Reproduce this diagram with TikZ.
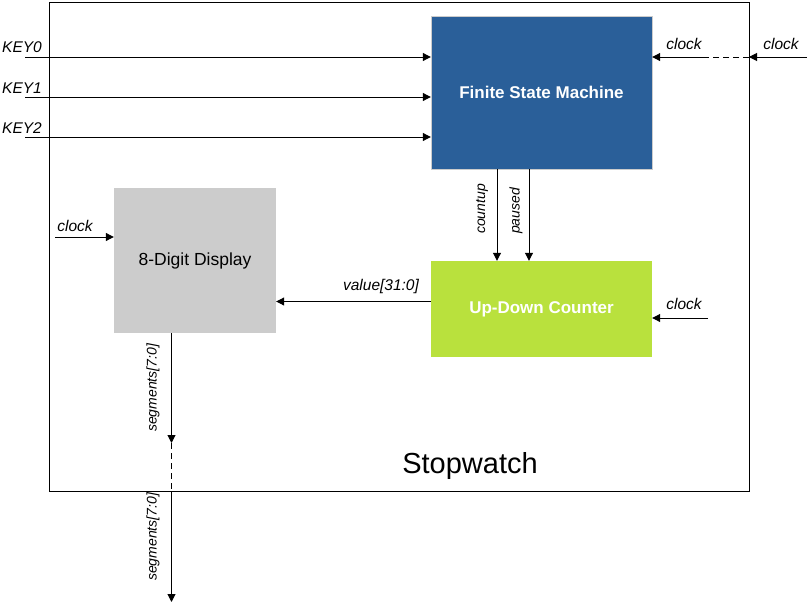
\documentclass[tikz,border=0pt]{standalone}
\usepackage{fontspec}
\setmainfont{Liberation Sans}
\usetikzlibrary{arrows.meta}
\definecolor{fsmblue}{HTML}{2A5F99}
\definecolor{ctrgreen}{HTML}{B9E13D}
\definecolor{dispgray}{HTML}{CCCCCC}
\begin{document}
\begin{tikzpicture}[x=1pt,y=-1pt,
  blk/.style={rectangle, inner sep=0pt, font=\fontsize{17}{20}\selectfont},
  arr/.style={line width=1pt, -{Triangle[length=8pt,width=8pt]}},
  wire/.style={line width=1pt},
  dsh/.style={line width=1pt, dash pattern=on 6pt off 4pt},
  lbl/.style={font=\fontsize{15.5}{18}\selectfont\itshape, inner sep=0pt},
  rlbl/.style={font=\fontsize{14}{16}\selectfont\itshape, inner sep=0pt, rotate=90}]
\useasboundingbox (0,0) rectangle (807,605);
% outer block
\node[draw, line width=1pt, rectangle, inner sep=0pt, minimum width=700pt, minimum height=489pt] (outer) at (399,246.5) {};
\node[font=\fontsize{29}{32}\selectfont, inner sep=0pt] (title) at (470,465.5) {Stopwatch};
% blocks
\node[blk, fill=fsmblue, draw=black!20, text=white, minimum width=221pt, minimum height=153pt, font=\fontsize{17}{20}\selectfont\bfseries] (fsm) at (541.5,92.5) {Finite State Machine};
\node[blk, fill=ctrgreen, text=white, minimum width=221pt, minimum height=96pt, font=\fontsize{17}{20}\selectfont\bfseries] (ctr) at (541.5,309) {Up-Down Counter};
\node[blk, fill=dispgray, minimum width=162pt, minimum height=145pt, font=\fontsize{17.5}{20}\selectfont] (disp) at (195,260.5) {8-Digit Display};
% key inputs
\coordinate (k0) at (25,57);
\coordinate (k1) at (25,97);
\coordinate (k2) at (25,137);
\draw[arr] (k0) -- (k0 -| fsm.west);
\draw[arr] (k1) -- (k1 -| fsm.west);
\draw[arr] (k2) -- (k2 -| fsm.west);
\node[lbl] (lk0) at (22,47) {KEY0};
\node[lbl] (lk1) at (22,88) {KEY1};
\node[lbl] (lk2) at (22,128) {KEY2};
% clock to fsm
\coordinate (cin) at (807,57);
\coordinate (cedge) at (749,57);
\coordinate (cdash) at (708,57);
\draw[arr] (cin) -- (cedge);
\draw[dsh] (cedge) -- (cdash);
\draw[arr] (cdash) -- (cdash -| fsm.east);
\node[lbl] (lc1) at (684,44) {clock};
\node[lbl] (lc0) at (781,44) {clock};
% clock to counter
\coordinate (cc) at (708,318);
\draw[arr] (cc) -- (cc -| ctr.east);
\node[lbl] (lc2) at (684,304) {clock};
% clock to display
\coordinate (cd) at (55,237);
\draw[arr] (cd) -- (cd -| disp.west);
\node[lbl] (lc3) at (75,226) {clock};
% fsm to counter
\coordinate (cu) at (497,169);
\coordinate (pa) at (529,169);
\draw[arr] (cu) -- (cu |- ctr.north);
\draw[arr] (pa) -- (pa |- ctr.north);
\node[rlbl] (lcu) at (482,209) {countup};
\node[rlbl] (lpa) at (516,211) {paused};
% value
\coordinate (vv) at (431,301.5);
\draw[arr] (vv) -- (vv -| disp.east);
\node[lbl] (lv) at (381,286) {value[31:0]};
% segments
\coordinate (s0) at (171.5,333);
\coordinate (s1) at (171.5,443);
\coordinate (s2) at (171.5,491);
\coordinate (s3) at (171.5,602);
\draw[arr] (s0) -- (s1);
\draw[dsh] (s1) -- (s2);
\draw[arr] (s2) -- (s3);
\node[rlbl] (ls1) at (153,388) {segments[7:0]};
\node[rlbl] (ls2) at (153,537) {segments[7:0]};
\end{tikzpicture}
\end{document}
